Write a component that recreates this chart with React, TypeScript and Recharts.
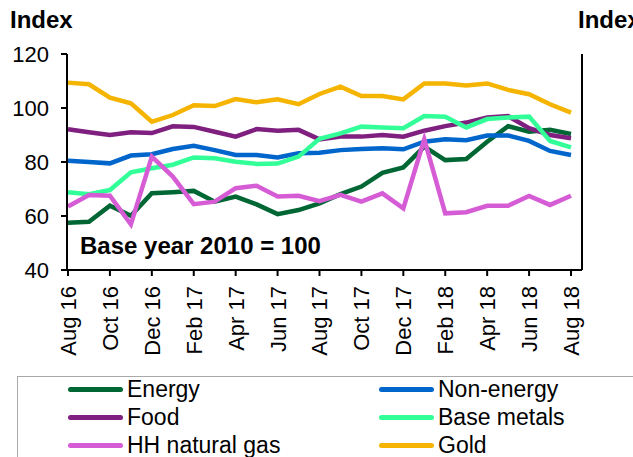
import React from 'react';
import { LineChart, Line, XAxis, YAxis } from 'recharts';

const months = [
  'Aug 16', 'Sep 16', 'Oct 16', 'Nov 16', 'Dec 16', 'Jan 17', 'Feb 17', 'Mar 17', 'Apr 17',
  'May 17', 'Jun 17', 'Jul 17', 'Aug 17', 'Sep 17', 'Oct 17', 'Nov 17', 'Dec 17', 'Jan 18',
  'Feb 18', 'Mar 18', 'Apr 18', 'May 18', 'Jun 18', 'Jul 18', 'Aug 18',
];

const energy = [57.5, 57.9, 63.8, 60.1, 68.4, 68.8, 69.3, 65.3, 67.2, 64.3, 60.7, 62.2, 64.7, 68.1, 70.9, 76.0, 78.0, 85.7, 80.7, 81.1, 87.5, 93.3, 91.2, 91.9, 90.4];
const nonEnergy = [80.5, 80.0, 79.5, 82.4, 82.9, 84.8, 86.0, 84.4, 82.6, 82.6, 81.7, 83.2, 83.4, 84.4, 84.8, 85.1, 84.7, 87.5, 88.4, 88.1, 89.8, 89.8, 87.8, 84.1, 82.6];
const food = [92.1, 91.0, 90.0, 91.0, 90.7, 93.2, 93.0, 91.2, 89.4, 92.2, 91.6, 91.9, 88.4, 89.4, 89.4, 90.0, 89.4, 91.6, 93.3, 94.6, 96.5, 97.0, 92.5, 90.0, 88.8];
const baseMetals = [68.8, 68.1, 69.6, 76.2, 77.7, 79.0, 81.7, 81.4, 80.1, 79.3, 79.4, 82.0, 88.6, 90.6, 93.1, 92.8, 92.5, 97.0, 96.8, 92.8, 95.9, 96.5, 96.8, 87.8, 85.4];
const hhGas = [63.5, 67.8, 67.5, 56.9, 82.0, 74.6, 64.4, 65.3, 70.3, 71.2, 67.2, 67.5, 65.5, 67.8, 65.3, 68.4, 62.8, 88.4, 61.0, 61.4, 63.8, 63.8, 67.4, 64.1, 67.5];
const gold = [109.4, 108.8, 103.8, 101.7, 94.9, 97.4, 101.0, 100.7, 103.3, 102.1, 103.2, 101.4, 105.2, 107.9, 104.4, 104.4, 103.2, 109.1, 109.1, 108.3, 109.1, 106.7, 105.1, 101.4, 98.3];

const yTicks = [40, 60, 80, 100, 120];

const series = [
  { key: 'energy', name: 'Energy', color: '#006633', values: energy },
  { key: 'nonEnergy', name: 'Non-energy', color: '#0066CC', values: nonEnergy },
  { key: 'food', name: 'Food', color: '#7F1F7F', values: food },
  { key: 'baseMetals', name: 'Base metals', color: '#33FF99', values: baseMetals },
  { key: 'hhGas', name: 'HH natural gas', color: '#D65CD6', values: hhGas },
  { key: 'gold', name: 'Gold', color: '#F5B400', values: gold },
];

const data = months.map((m, i) => {
  const row: Record<string, string | number> = { month: m };
  series.forEach((s) => {
    row[s.key] = s.values[i];
  });
  return row;
});

const font = 'Arial, "Liberation Sans", sans-serif';

const MonthTick = (props: any) => {
  const { x, y, payload } = props;
  return (
    <g transform={`translate(${x},${y})`}>
      <text
        transform="rotate(-90)"
        x={-8}
        y={0}
        dy="0.36em"
        textAnchor="end"
        fontSize={22}
        fontFamily={font}
        fill="#000"
      >
        {payload.value}
      </text>
    </g>
  );
};

const axisLine = { stroke: '#000', strokeWidth: 2 };
const tickLine = { stroke: '#000', strokeWidth: 2 };
const yTickStyle = { fontSize: 22, fontFamily: font, fill: '#000' };

export default function App() {
  return (
    <div style={{ position: 'absolute', left: 0, top: 0, width: 633, height: 457, overflow: 'hidden', background: '#fff', fontFamily: font }}>
      <div style={{ position: 'absolute', left: 10, top: 6, fontSize: 24, fontWeight: 'bold' }}>Index</div>
      <div style={{ position: 'absolute', left: 578, top: 6, fontSize: 24, fontWeight: 'bold', whiteSpace: 'nowrap' }}>Index</div>
      <LineChart width={633} height={378} data={data} margin={{ top: 54, right: 0, bottom: 0, left: 0 }}>
        <XAxis
          dataKey="month"
          interval={1}
          height={108}
          padding={{ left: 1, right: 11 }}
          axisLine={axisLine}
          tickLine={tickLine}
          tickSize={6}
          tick={<MonthTick />}
        />
        <YAxis
          yAxisId="left"
          domain={[40, 120]}
          ticks={yTicks}
          width={67}
          axisLine={axisLine}
          tickLine={tickLine}
          tickSize={6}
          tickMargin={12}
          tick={yTickStyle}
        />
        <YAxis
          yAxisId="right"
          orientation="right"
          domain={[40, 120]}
          ticks={yTicks}
          width={51}
          axisLine={axisLine}
          tickLine={tickLine}
          tickSize={6}
          tickMargin={12}
          tick={yTickStyle}
        />
        {series.map((s) => (
          <Line
            key={s.key}
            yAxisId="left"
            type="linear"
            dataKey={s.key}
            name={s.name}
            stroke={s.color}
            strokeWidth={4.5}
            dot={false}
            isAnimationActive={false}
          />
        ))}
      </LineChart>
      <div style={{ position: 'absolute', left: 80, top: 232, fontSize: 24, fontWeight: 'bold', whiteSpace: 'nowrap' }}>Base year 2010 = 100</div>
      <div style={{ position: 'absolute', left: 17, top: 376, width: 640, height: 100, border: '1.5px solid #aaa', boxSizing: 'border-box' }}>
        {series.map((s, i) => {
          const col = i % 2;
          const row = Math.floor(i / 2);
          return (
            <div
              key={s.key}
              style={{ position: 'absolute', left: col === 0 ? 50 : 361, top: 0 + row * 28, display: 'flex', alignItems: 'center', height: 24, whiteSpace: 'nowrap' }}
            >
              <span style={{ display: 'inline-block', width: 55, height: 5, borderRadius: 3, background: s.color, marginRight: 4 }} />
              <span style={{ fontSize: 23 }}>{s.name}</span>
            </div>
          );
        })}
      </div>
    </div>
  );
}
